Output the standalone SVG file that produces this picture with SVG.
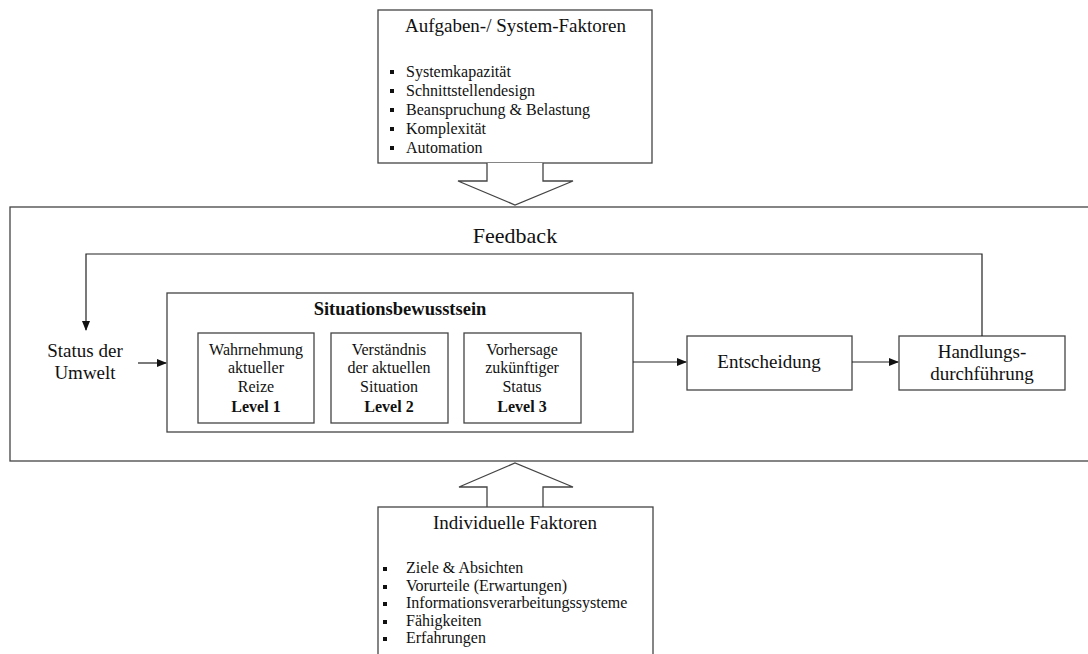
<svg xmlns="http://www.w3.org/2000/svg" width="1088" height="654" viewBox="0 0 1088 654">
<style>
.box{fill:#fff;stroke:#444;stroke-width:1.3}
text{font-family:'Liberation Serif','DejaVu Serif','Times New Roman',serif;fill:#111}
.c{text-anchor:middle}
.b{font-weight:bold}
.ln{fill:none;stroke:#222;stroke-width:1.2}
</style>
<defs>
<marker id="ah" markerWidth="10" markerHeight="8" refX="9" refY="4" orient="auto" markerUnits="userSpaceOnUse">
<path d="M0,0 L10,4 L0,8 Z" fill="#111"/>
</marker>
</defs>
<rect width="1088" height="654" fill="#fff"/>

<g id="umgebung">
<rect class="box" x="10" y="207" width="1090" height="254"/>
</g>

<g id="aufgaben">
<rect class="box" x="378" y="10" width="274" height="153"/>
<text class="c" x="515.5" y="32" font-size="19">Aufgaben-/ System-Faktoren</text>
<g font-size="16">
<rect x="390" y="70" width="4" height="4" fill="#111"/><text x="406" y="77">Systemkapazität</text>
<rect x="390" y="89" width="4" height="4" fill="#111"/><text x="406" y="96">Schnittstellendesign</text>
<rect x="390" y="108" width="4" height="4" fill="#111"/><text x="406" y="115">Beanspruchung &amp; Belastung</text>
<rect x="390" y="127" width="4" height="4" fill="#111"/><text x="406" y="134">Komplexität</text>
<rect x="390" y="146" width="4" height="4" fill="#111"/><text x="406" y="153">Automation</text>
</g>
<path class="box" d="M487,163 V181 H458 L515,205 L573,181 H543 V163"/>
</g>

<g id="individuell">
<path class="box" d="M487,507 V487 H459 L515,463 L573,487 H543 V507"/>
<rect class="box" x="378" y="507" width="275" height="160"/>
<text class="c" x="515" y="529" font-size="19">Individuelle Faktoren</text>
<g font-size="16">
<rect x="383" y="567" width="4" height="4" fill="#111"/><text x="406" y="573">Ziele &amp; Absichten</text>
<rect x="383" y="585" width="4" height="4" fill="#111"/><text x="406" y="591">Vorurteile (Erwartungen)</text>
<rect x="383" y="602" width="4" height="4" fill="#111"/><text x="406" y="608">Informationsverarbeitungssysteme</text>
<rect x="383" y="620" width="4" height="4" fill="#111"/><text x="406" y="626">Fähigkeiten</text>
<rect x="383" y="637" width="4" height="4" fill="#111"/><text x="406" y="643">Erfahrungen</text>
</g>
</g>

<g id="status">
<text class="c" x="85" y="357" font-size="19">Status der</text>
<text class="c" x="85" y="379" font-size="19">Umwelt</text>
</g>

<g id="sa">
<rect class="box" x="167" y="293" width="466" height="139"/>
<text class="c b" x="400" y="315" font-size="18.5">Situationsbewusstsein</text>
</g>
<g id="level1">
<rect class="box" x="198" y="333" width="116" height="90"/>
<g class="c" font-size="16"><text x="256" y="355">Wahrnehmung</text><text x="256" y="373">aktueller</text><text x="256" y="392">Reize</text><text class="b" x="256" y="412">Level 1</text></g>
</g>
<g id="level2">
<rect class="box" x="331" y="333" width="117" height="90"/>
<g class="c" font-size="16"><text x="389" y="355">Verständnis</text><text x="389" y="373">der aktuellen</text><text x="389" y="392">Situation</text><text class="b" x="389" y="412">Level 2</text></g>
</g>
<g id="level3">
<rect class="box" x="464" y="333" width="117" height="90"/>
<g class="c" font-size="16"><text x="522" y="355">Vorhersage</text><text x="522" y="373">zukünftiger</text><text x="522" y="392">Status</text><text class="b" x="522" y="412">Level 3</text></g>
</g>

<g id="entscheidung">
<rect class="box" x="687" y="336" width="165" height="54"/>
<text class="c" x="769" y="368" font-size="19">Entscheidung</text>
</g>
<g id="handlung">
<rect class="box" x="899" y="336" width="166" height="54"/>
<text class="c" x="982" y="358" font-size="19">Handlungs-</text>
<text class="c" x="982" y="380" font-size="19">durchführung</text>
</g>

<g id="connectors">
<line class="ln" x1="138" y1="363" x2="166" y2="363" marker-end="url(#ah)"/>
<line class="ln" x1="633" y1="362" x2="686" y2="362" marker-end="url(#ah)"/>
<line class="ln" x1="852" y1="362" x2="898" y2="362" marker-end="url(#ah)"/>
<path class="ln" d="M982,336 V254 H86 V330" marker-end="url(#ah)"/>
<text class="c" x="515" y="243" font-size="22">Feedback</text>
</g>
</svg>
